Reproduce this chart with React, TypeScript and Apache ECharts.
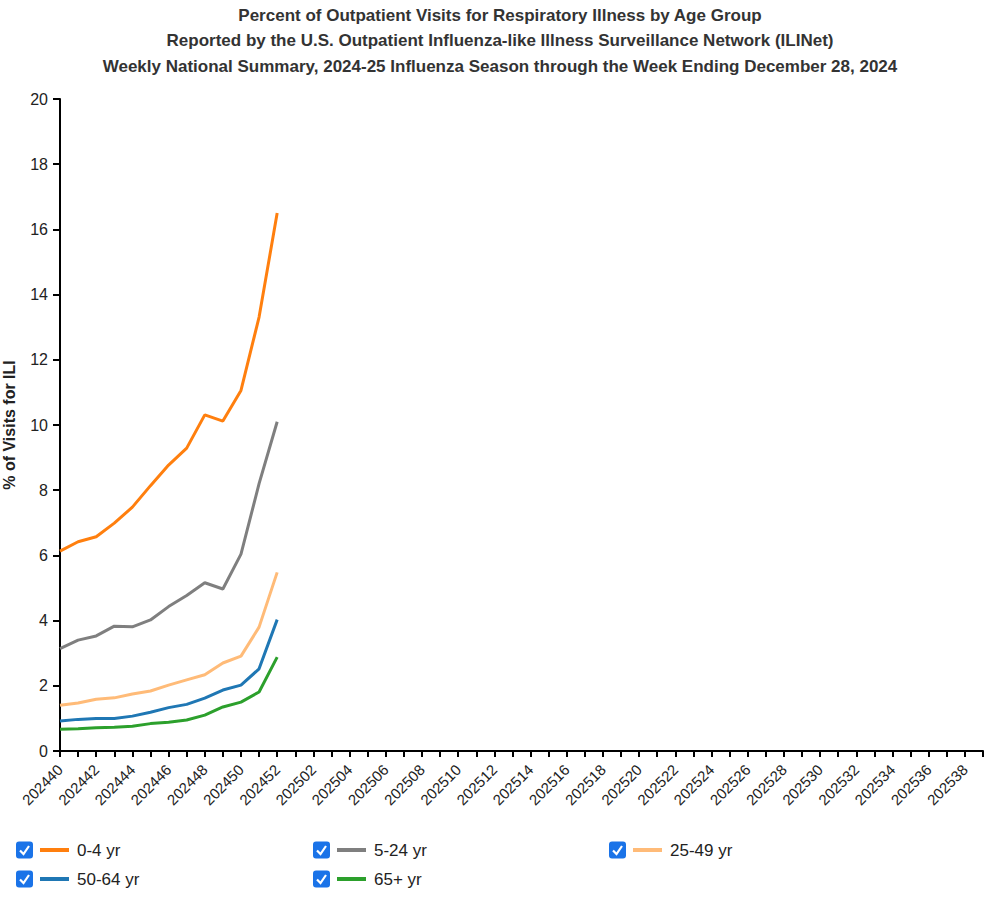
import React, { useEffect, useRef } from "react";
import * as echarts from "echarts";

const weeks2024 = ["202440","202441","202442","202443","202444","202445","202446","202447","202448","202449","202450","202451","202452"];
const weeks2025 = ["202501","202502","202503","202504","202505","202506","202507","202508","202509","202510","202511","202512","202513","202514","202515","202516","202517","202518","202519","202520","202521","202522","202523","202524","202525","202526","202527","202528","202529","202530","202531","202532","202533","202534","202535","202536","202537","202538","202539"];
const categories = [...weeks2024, ...weeks2025];

const age0to4 = [6.13, 6.42, 6.57, 6.99, 7.48, 8.14, 8.77, 9.29, 10.31, 10.12, 11.06, 13.31, 16.5];
const age5to24 = [3.14, 3.4, 3.53, 3.83, 3.81, 4.02, 4.43, 4.77, 5.16, 4.97, 6.04, 8.2, 10.1];
const age25to49 = [1.4, 1.47, 1.59, 1.63, 1.75, 1.84, 2.02, 2.18, 2.34, 2.7, 2.91, 3.8, 5.48];
const age50to64 = [0.92, 0.97, 1.0, 1.0, 1.07, 1.19, 1.33, 1.43, 1.62, 1.87, 2.02, 2.52, 4.03];
const age65plus = [0.67, 0.68, 0.71, 0.73, 0.76, 0.84, 0.88, 0.95, 1.1, 1.35, 1.5, 1.81, 2.88];

const seriesNames = ["0-4 yr", "5-24 yr", "25-49 yr", "50-64 yr", "65+ yr"];
const seriesData = [age0to4, age5to24, age25to49, age50to64, age65plus];
const seriesColors = ["#ff7f0e", "#7f7f7f", "#ffbb78", "#1f77b4", "#2ca02c"];

const titleLines = [
  "Percent of Outpatient Visits for Respiratory Illness by Age Group",
  "Reported by the U.S. Outpatient Influenza-like Illness Surveillance Network (ILINet)",
  "Weekly National Summary, 2024-25 Influenza Season through the Week Ending December 28, 2024",
];

const legendPos = [
  [16, 850], [313, 850], [609, 850], [16, 879], [313, 879],
];

export default function App() {
  const ref = useRef<HTMLDivElement>(null);
  useEffect(() => {
    if (!ref.current) return;
    const chart = echarts.init(ref.current, null, { renderer: "svg" });
    const graphics: any[] = [];
    titleLines.forEach((t, i) => {
      graphics.push({
        type: "text",
        x: 500,
        y: 15 + i * 25.5,
        style: {
          text: t,
          fill: "#333",
          font: "bold 17px 'Liberation Sans', Arial, sans-serif",
          textAlign: "center",
          textVerticalAlign: "middle",
        },
      });
    });
    seriesNames.forEach((name, i) => {
      const [x, y] = legendPos[i];
      graphics.push({
        type: "rect",
        shape: { x: x, y: y - 8.5, width: 17, height: 17, r: 3 },
        style: { fill: "#1a73e8" },
      });
      graphics.push({
        type: "polyline",
        shape: { points: [[x + 4, y + 0.5], [x + 7.5, y + 4], [x + 13, y - 4]] },
        style: { stroke: "#fff", lineWidth: 2.2, fill: null },
      });
      graphics.push({
        type: "line",
        shape: { x1: x + 24, y1: y, x2: x + 53, y2: y },
        style: { stroke: seriesColors[i], lineWidth: 4 },
      });
      graphics.push({
        type: "text",
        x: x + 61,
        y: y,
        style: {
          text: name,
          fill: "#222",
          font: "17px 'Liberation Sans', Arial, sans-serif",
          textVerticalAlign: "middle",
        },
      });
    });

    chart.setOption({
      animation: false,
      grid: { left: 60, right: 17, top: 99, bottom: 147, containLabel: false, outerBoundsMode: "none" },
      xAxis: {
        type: "category",
        data: categories,
        boundaryGap: false,
        axisLine: { lineStyle: { color: "#000", width: 2 } },
        axisTick: { interval: 0, length: 6, lineStyle: { color: "#000", width: 2 } },
        axisLabel: {
          interval: 1,
          rotate: 45,
          color: "#222",
          fontSize: 15,
          fontFamily: "'Liberation Sans', Arial, sans-serif",
          margin: 16,
          padding: [14, 0, 0, 0],
        },
        splitLine: { show: false },
      },
      yAxis: {
        type: "value",
        min: 0,
        max: 20,
        interval: 2,
        name: "% of Visits for ILI",
        nameLocation: "middle",
        nameGap: 43,
        nameRotate: 90,
        nameTextStyle: {
          fontSize: 16,
          fontWeight: "bold",
          color: "#222",
          fontFamily: "'Liberation Sans', Arial, sans-serif",
        },
        axisLine: { show: true, lineStyle: { color: "#000", width: 2 } },
        axisTick: { show: true, length: 7, lineStyle: { color: "#000", width: 2 } },
        axisLabel: {
          color: "#222",
          fontSize: 16,
          fontFamily: "'Liberation Sans', Arial, sans-serif",
          margin: 12,
        },
        splitLine: { show: false },
      },
      series: seriesNames.map((name, i) => ({
        name,
        type: "line",
        data: seriesData[i],
        symbol: "none",
        lineStyle: { color: seriesColors[i], width: 3 },
        itemStyle: { color: seriesColors[i] },
      })),
      graphic: graphics,
    });
    return () => chart.dispose();
  }, []);
  return (
    <div
      ref={ref}
      style={{ position: "fixed", left: 0, top: 0, width: 1000, height: 898, background: "#fff" }}
    />
  );
}
